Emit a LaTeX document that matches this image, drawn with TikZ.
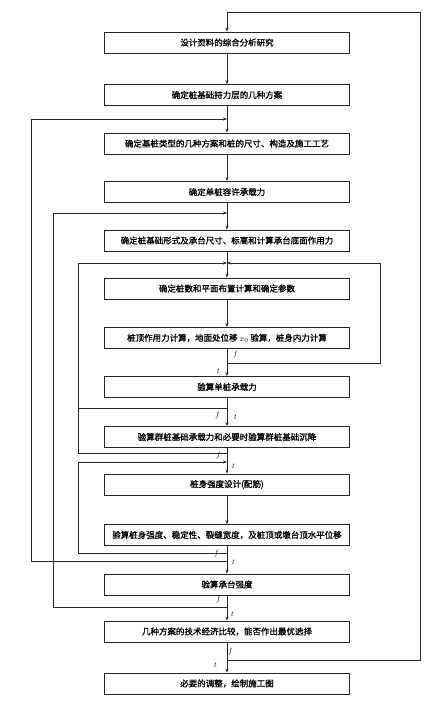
\documentclass[tikz,border=0pt]{standalone}
\usepackage{fontspec}
\newfontfamily\cjk{Noto Sans CJK SC}[FakeBold=1.2]
\usetikzlibrary{arrows.meta}
\begin{document}
\begin{tikzpicture}[x=1pt,y=-1pt,
  box/.style={draw=black!85, line width=0.8pt, minimum width=245pt, minimum height=21pt, inner sep=0pt, font=\cjk\fontsize{8.5}{10}\selectfont},
  ln/.style={draw=black!85, line width=0.7pt},
  arr/.style={ln,-{Stealth[length=4pt,width=3pt]}},
  lab/.style={font=\itshape\fontsize{7.5}{8}\selectfont, inner sep=0pt}]
\useasboundingbox (0,0) rectangle (443,714);
\node[box] (b1) at (227,42.5) {设计资料的综合分析研究};
\node[box] (b2) at (227,95) {确定桩基础持力层的几种方案};
\node[box] (b3) at (227,143.5) {确定基桩类型的几种方案和桩的尺寸、构造及施工工艺};
\node[box] (b4) at (227,192) {确定单桩容许承载力};
\node[box] (b5) at (227,240.5) {确定桩基础形式及承台尺寸、标高和计算承台底面作用力};
\node[box] (b6) at (227,288.5) {确定桩数和平面布置计算和确定参数};
\node[box] (b7) at (227,338) {桩顶作用力计算，地面处位移 $x_0$ 验算，桩身内力计算};
\node[box] (b8) at (227,387) {验算单桩承载力};
\node[box] (b9) at (227,437) {验算群桩基础承载力和必要时验算群桩基础沉降};
\node[box] (b10) at (227,484.5) {桩身强度设计(配筋)};
\node[box] (b11) at (227,535) {验算桩身强度、稳定性、裂缝宽度，及桩顶或墩台顶水平位移};
\node[box] (b12) at (227,584.5) {验算承台强度};
\node[box] (b13) at (227,631.5) {几种方案的技术经济比较，能否作出最优选择};
\node[box] (b14) at (227,683.5) {必要的调整，绘制施工图};
\foreach \i/\j in {1/2,2/3,3/4,4/5,5/6,6/7,7/8,8/9,9/10,10/11,11/12,12/13,13/14}
  \draw[arr] (b\i) -- (b\j);
% junctions
\coordinate (j3) at (227,119);
\coordinate (j5) at (227,213);
\coordinate (j6) at (227,263);
\coordinate (j10) at (227,462);
\coordinate (o7) at (227,363);
\coordinate (o8) at (227,408);
\coordinate (o9) at (227,453);
\coordinate (o11a) at (227,553);
\coordinate (o11b) at (227,561);
\coordinate (o12) at (227,607);
\coordinate (o13) at (227,660);
% loops
\draw[arr] (o13) -| (420,12) -| (b1.north);
\draw[arr] (o11b) -| (31,119) -- (j3);
\draw[arr] (o12) -| (53,213) -- (j5);
\draw[arr] (o9) -| (78,263) -- (j6);
\draw[ln] (o8) -- (78,408);
\draw[arr] (o7) -| (380,263) -- (j6);
\draw[arr] (o11a) -| (78,462) -- (j10);
% labels
\node[lab] (f7) at (235,355) {f};
\node[lab] (t7) at (218,371) {t};
\node[lab] (f8) at (217,416) {f};
\node[lab] (t8) at (235,417) {t};
\node[lab] (f9) at (218,456) {f};
\node[lab] (t9) at (233,466) {t};
\node[lab] (f11) at (216,554) {f};
\node[lab] (t11) at (233,562) {t};
\node[lab] (f12) at (218,600) {f};
\node[lab] (t12) at (232,614) {t};
\node[lab] (f13) at (230,652) {f};
\node[lab] (t13) at (215,665) {t};
\end{tikzpicture}
\end{document}
